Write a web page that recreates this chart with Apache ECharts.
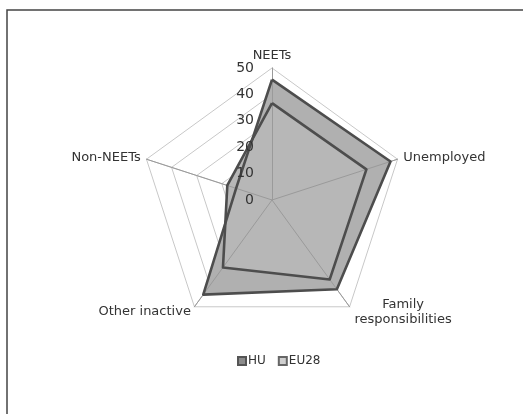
<!DOCTYPE html>
<html>
<head>
<meta charset="utf-8">
<script src="https://cdn.jsdelivr.net/npm/echarts@6/dist/echarts.min.js"></script>
<style>html,body{margin:0;padding:0;background:#fff}#c{width:523px;height:414px}</style>
</head>
<body>
<div id="c"></div>
<script>
// Categories in clockwise order starting at the top
var categories = ['NEETs', 'Unemployed', 'Family responsibilities', 'Other inactive', 'Non-NEETs'];
var huValues = [45.6, 47.2, 41.8, 44.3, 14.3];
var eu28Values = [36.7, 37.6, 37.2, 31.6, 17.8];
var axisMax = 50;
var tickInterval = 10;
var seriesNames = ['HU', 'EU28'];

// ECharts radar lays indicators out counter-clockwise; reorder to get clockwise
function ccw(arr) { return [arr[0]].concat(arr.slice(1).reverse()); }

var indicators = ccw(categories).map(function (n) { return { name: n, max: axisMax, min: 0 }; });
var frame = {
  type: 'rect', shape: { x: 7, y: 10, width: 600, height: 600 },
  style: { fill: 'none', stroke: '#444', lineWidth: 1.5 }, silent: true
};

var chart = echarts.init(document.getElementById('c'));
chart.setOption({
  animation: false,
  textStyle: { fontFamily: 'DejaVu Sans' },
  graphic: [frame],
  legend: {
    data: seriesNames, top: 350, left: 232,
    itemWidth: 8, itemHeight: 8, itemGap: 12,
    icon: 'rect',
    textStyle: { fontSize: 12, color: '#333', padding: [0, 0, 0, -3] }
  },
  radar: [{
    center: [272, 200],
    radius: 132,
    startAngle: 90,
    splitNumber: axisMax / tickInterval,
    shape: 'polygon',
    indicator: indicators,
    axisName: {
      color: '#333', fontSize: 13,
      formatter: function (n) {
        if (n === 'Family responsibilities') return '{c|Family}\n{c|responsibilities}';
        return n;
      },
      rich: { c: { width: 100, align: 'center', fontSize: 13, color: '#333', lineHeight: 15 } }
    },
    nameGap: 6,
    splitArea: { show: false },
    splitLine: { lineStyle: { color: '#c8c8c8', width: 1 } },
    axisLine: { lineStyle: { color: '#bdbdbd', width: 1 } },
    axisLabel: { show: false },
    z: 1
  }, {
    center: [272, 200],
    radius: 132,
    startAngle: 90,
    splitNumber: axisMax / tickInterval,
    shape: 'polygon',
    indicator: indicators,
    axisName: { show: false },
    splitArea: { show: false },
    splitLine: { show: false },
    axisLine: { lineStyle: { color: '#9a9a9a', width: 1 } },
    axisLabel: { show: false },
    z: 5
  }],
  series: [{
    // filled areas
    type: 'radar',
    radarIndex: 0,
    symbol: 'none',
    z: 3,
    data: [{
      name: 'HU', value: ccw(huValues),
      itemStyle: { color: '#8c8c8c', borderColor: '#555', borderWidth: 1.5 },
      lineStyle: { width: 0, opacity: 0 },
      areaStyle: { color: '#b0b0b0', opacity: 1 }
    }, {
      name: 'EU28', value: ccw(eu28Values),
      itemStyle: { color: '#cfcfcf', borderColor: '#666', borderWidth: 1.5 },
      lineStyle: { width: 0, opacity: 0 },
      areaStyle: { color: '#b7b7b7', opacity: 1 }
    }]
  }, {
    // outlines
    type: 'radar',
    radarIndex: 0,
    symbol: 'none',
    z: 6,
    data: [{
      name: 'HU', value: ccw(huValues),
      itemStyle: { color: '#8c8c8c' },
      lineStyle: { color: '#4d4d4d', width: 2.6 }
    }, {
      name: 'EU28', value: ccw(eu28Values),
      itemStyle: { color: '#cfcfcf' },
      lineStyle: { color: '#4d4d4d', width: 2.6 }
    }]
  }]
});

// Tick labels on the NEETs axis, positioned from the radar axis scale
(function () {
  var coord = chart.getModel().getComponent('radar', 0).coordinateSystem;
  var g = [];
  for (var v = 0; v <= axisMax; v += tickInterval) {
    var p = coord.dataToPoint(v, 0);
    g.push({ type: 'text', z: 100, x: p[0] - 18, y: p[1], style: { text: String(v), fill: '#333', font: '14px DejaVu Sans', align: 'right', verticalAlign: 'middle' }, silent: true });
  }
  chart.setOption({ graphic: [frame].concat(g) });
})();
</script>
</body>
</html>
